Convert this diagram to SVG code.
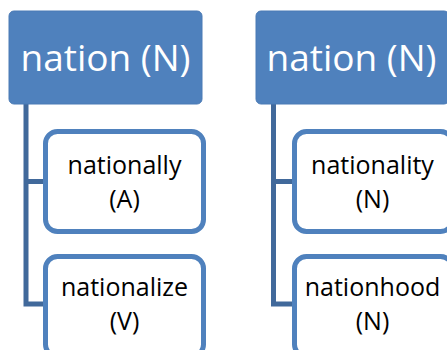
<svg xmlns="http://www.w3.org/2000/svg" width="447" height="350" viewBox="0 0 447 350">
<style>
.top{fill:#4F81BD;stroke:#4A7AB5;stroke-width:1}
.child{fill:#fff;stroke:#4F81BD;stroke-width:5}
.tt{font-family:"Open Sans","DejaVu Sans",sans-serif;font-size:37px;fill:#fff;text-anchor:middle}
.ct{font-family:"Open Sans","DejaVu Sans",sans-serif;font-size:25px;fill:#000;text-anchor:middle}
.conn{fill:none;stroke:#41699B;stroke-width:5}
</style>
<rect width="447" height="350" fill="#fff"/>
<g id="connectors">
<path class="conn" d="M26,104 V304 H45 M26,181.5 H45"/>
<path class="conn" d="M273.5,104 V304 H294 M273.5,181.5 H294"/>
</g>
<g id="n1"><rect class="top" x="9" y="11" width="193" height="93" rx="5"/><text class="tt" x="105.5" y="71">nation (N)</text></g>
<g id="n2"><rect class="child" x="45.5" y="131.5" width="158" height="100" rx="12"/><text class="ct" x="124.5" y="174">nationally</text><text class="ct" x="124.5" y="208">(A)</text></g>
<g id="n3"><rect class="child" x="45.5" y="256.5" width="158" height="100" rx="12"/><text class="ct" x="124.5" y="296">nationalize</text><text class="ct" x="124.5" y="330">(V)</text></g>
<g id="n4"><rect class="top" x="256" y="11" width="193" height="93" rx="5"/><text class="tt" x="351.5" y="71">nation (N)</text></g>
<g id="n5"><rect class="child" x="294.5" y="131.5" width="158" height="100" rx="12"/><text class="ct" x="372.5" y="174">nationality</text><text class="ct" x="372.5" y="208">(N)</text></g>
<g id="n6"><rect class="child" x="294.5" y="256.5" width="158" height="100" rx="12"/><text class="ct" x="372.5" y="296">nationhood</text><text class="ct" x="372.5" y="330">(N)</text></g>
</svg>
